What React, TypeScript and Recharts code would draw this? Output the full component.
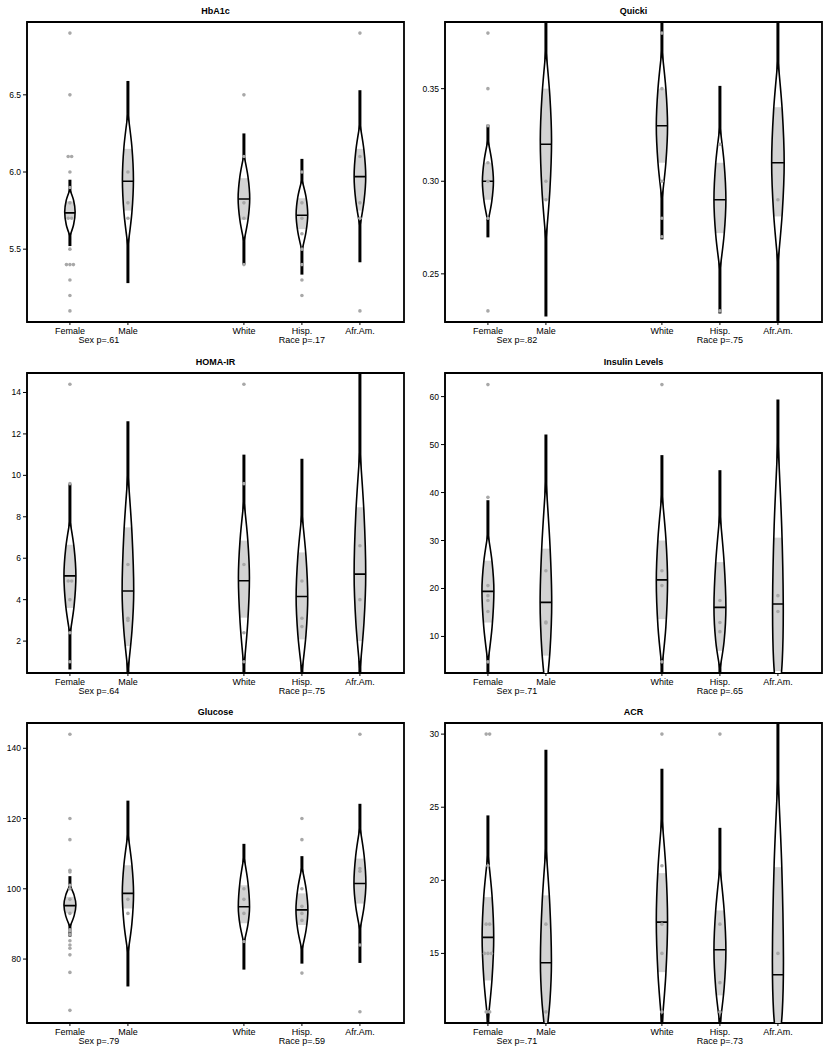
import React from 'react'
import { ComposedChart, Scatter, XAxis, YAxis, ReferenceArea } from 'recharts'

const FONT = '"Liberation Sans", Arial, Helvetica, sans-serif'

const CATEGORIES = ['Female', 'Male', 'White', 'Hisp.', 'Afr.Am.']
const CAT_X = [1, 2, 4, 5, 6]
const X_TICKS = [1, 1.5, 2, 4, 5, 6]
const X_DOMAIN = [0.26, 6.76]

// violin outlines: [y, half width] from bottom tip to top tip

// HbA1c
const hba1cTicks = [5.5, 6.0, 6.5]
const hba1cMedian = [5.735, 5.94, 5.825, 5.72, 5.97]
const hba1cBox = [[5.7, 5.81], [5.75, 6.15], [5.69, 5.96], [5.63, 5.83], [5.75, 6.15]]
const hba1cRange = [[5.52, 5.95], [5.28, 6.59], [5.4, 6.25], [5.335, 6.085], [5.415, 6.53]]
const hba1cViolin = [
  [[5.585, 0], [5.66, 0.064], [5.74, 0.09], [5.815, 0.064], [5.885, 0]],
  [[5.52, 0], [5.735, 0.068], [5.95, 0.095], [6.165, 0.068], [6.38, 0]],
  [[5.55, 0], [5.69, 0.07], [5.83, 0.1], [5.97, 0.07], [6.11, 0]],
  [[5.49, 0], [5.61, 0.07], [5.725, 0.1], [5.84, 0.07], [5.95, 0]],
  [[5.65, 0], [5.81, 0.07], [5.97, 0.1], [6.14, 0.07], [6.31, 0]],
]
const hba1cDots = [
  [6.9, 6.5, 6.1, 6.1, 6.0, 5.9, 5.8, 5.7, 5.7, 5.5, 5.4, 5.4, 5.4, 5.3, 5.2, 5.1],
  [6.0, 5.8, 5.7],
  [6.5, 6.1, 5.8, 5.7, 5.4],
  [6.0, 5.8, 5.7, 5.6, 5.5, 5.4, 5.3, 5.2],
  [6.9, 6.1, 5.8, 5.7, 5.1],
]

// Quicki
const quickiTicks = [0.25, 0.3, 0.35]
const quickiMedian = [0.3, 0.32, 0.33, 0.29, 0.31]
const quickiBox = [[0.29, 0.31], [0.29, 0.35], [0.31, 0.35], [0.272, 0.31], [0.281, 0.34]]
const quickiRange = [[0.2697, 0.3305], [0.227, 0.4], [0.2686, 0.4], [0.2286, 0.3515], [0.22, 0.4]]
const quickiViolin = [
  [[0.278, 0], [0.289, 0.066], [0.3, 0.095], [0.311, 0.066], [0.3223, 0]],
  [[0.268, 0], [0.295, 0.068], [0.322, 0.097], [0.346, 0.068], [0.371, 0]],
  [[0.29, 0], [0.31, 0.068], [0.33, 0.097], [0.35, 0.068], [0.371, 0]],
  [[0.252, 0], [0.271, 0.072], [0.29, 0.103], [0.31, 0.072], [0.3296, 0]],
  [[0.2557, 0], [0.283, 0.075], [0.31, 0.108], [0.338, 0.075], [0.3656, 0]],
]
const quickiDots = [
  [0.38, 0.35, 0.33, 0.31, 0.3, 0.28, 0.23],
  [0.3, 0.29],
  [0.38, 0.35, 0.3, 0.28, 0.27],
  [0.32, 0.23],
  [0.29],
]

// HOMA-IR
const homaTicks = [2, 4, 6, 8, 10, 12, 14]
const homaMedian = [5.15, 4.42, 4.91, 4.15, 5.23]
const homaBox = [[3.6, 6.65], [1.76, 7.49], [3.13, 6.85], [2.08, 6.28], [2.0, 8.46]]
const homaRange = [[0.63, 9.59], [0.2, 12.61], [0.2, 11.0], [0.2, 10.8], [0.2, 15.5]]
const homaViolin = [
  [[2.32, 0], [3.7, 0.072], [5.15, 0.103], [6.5, 0.072], [7.81, 0]],
  [[0.55, 0], [2.5, 0.07], [4.42, 0.1], [7.2, 0.07], [10.07, 0]],
  [[0.71, 0], [2.9, 0.066], [5.07, 0.095], [6.9, 0.066], [8.78, 0]],
  [[0.5, 0], [2.3, 0.07], [4.1, 0.1], [6.1, 0.07], [8.14, 0]],
  [[0.6, 0], [2.9, 0.07], [5.23, 0.1], [8.2, 0.07], [11.2, 0]],
]
const homaDots = [
  [14.4, 9.6, 4.9, 4.9, 4.0, 2.4, 1.0],
  [5.7, 3.1, 3.0],
  [14.4, 9.6, 5.7, 2.4, 1.0],
  [4.9, 3.1, 2.7],
  [6.6, 4.0],
]

// Insulin Levels
const insulinTicks = [10, 20, 30, 40, 50, 60]
const insulinMedian = [19.4, 17.1, 21.8, 16.07, 16.76]
const insulinBox = [[12.9, 25.8], [6.0, 28.3], [13.6, 30.0], [7.0, 25.5], [2.8, 30.6]]
const insulinRange = [[0, 38.4], [0, 52.1], [0, 47.8], [0, 44.66], [0, 59.4]]
const insulinViolin = [
  [[4.5, 0], [12, 0.072], [19.55, 0.103], [25.5, 0.072], [31.4, 0]],
  [[-2, 0], [7, 0.07], [17.1, 0.1], [29, 0.07], [42.6, 0]],
  [[3.5, 0], [12, 0.068], [21.6, 0.097], [30.5, 0.068], [39.8, 0]],
  [[3.2, 0], [9, 0.072], [16.1, 0.103], [25.5, 0.072], [35.6, 0]],
  [[-6, 0], [5, 0.075], [16.8, 0.092], [33, 0.065], [50.9, 0]],
]
const insulinDots = [
  [62.5, 39, 20.6, 18.5, 17.5, 15.2, 4.7],
  [23.7, 13.0, 12.8],
  [62.5, 23.7, 20.6, 4.7],
  [17.5, 12.9, 11.0],
  [18.5, 15.2],
]

// Glucose
const glucoseTicks = [80, 100, 120, 140]
const glucoseMedian = [95.2, 98.7, 94.9, 94.0, 101.5]
const glucoseBox = [[93, 97.7], [94.4, 106.7], [90.2, 101.0], [89.7, 98.7], [95.8, 108.6]]
const glucoseRange = [[86.4, 103.6], [72.2, 125.1], [77.0, 112.8], [78.7, 109.3], [78.9, 124.2]]
const glucoseViolin = [
  [[89.2, 0], [92.3, 0.072], [95.4, 0.103], [98.2, 0.072], [101.0, 0]],
  [[81.7, 0], [90, 0.068], [98.7, 0.097], [107, 0.068], [115.7, 0]],
  [[84.5, 0], [89.7, 0.068], [94.9, 0.097], [102, 0.068], [109.1, 0]],
  [[82.6, 0], [88.3, 0.072], [94.0, 0.103], [100, 0.072], [106.2, 0]],
  [[88.3, 0], [95, 0.072], [101.5, 0.103], [109.5, 0.072], [117.5, 0]],
]
const glucoseDots = [
  [144, 120, 114, 105.3, 104.8, 101, 100, 97, 93, 88.3, 88, 87, 85.2, 84, 83.1, 81.2, 76.2, 65.4],
  [97, 93],
  [100, 97, 93, 85],
  [120, 114, 100, 95, 93, 91, 76],
  [144, 105.8, 105, 84, 65],
]

// ACR
const acrTicks = [15, 20, 25, 30]
const acrMedian = [16.1, 14.36, 17.14, 15.25, 13.54]
const acrBox = [[13.15, 18.85], [10.0, 18.97], [13.72, 20.49], [12.13, 17.94], [10.0, 20.9]]
const acrRange = [[9, 24.44], [9, 28.93], [9, 27.63], [9, 23.59], [9, 32]]
const acrViolin = [
  [[10.3, 0], [13.2, 0.07], [16.1, 0.1], [19, 0.07], [21.8, 0]],
  [[9.0, 0], [11.8, 0.07], [14.5, 0.095], [18.4, 0.066], [22.27, 0]],
  [[10.1, 0], [13.6, 0.068], [17.26, 0.097], [20.8, 0.068], [24.3, 0]],
  [[10.1, 0], [12.6, 0.072], [15.2, 0.103], [18, 0.072], [20.9, 0]],
  [[8.0, 0], [11.0, 0.075], [14.75, 0.095], [21, 0.066], [27.06, 0]],
]
const acrDots = [
  [30, 30, 21, 17, 17, 15, 15, 15, 11, 11],
  [17, 11],
  [30, 21, 17, 15, 11],
  [30, 17, 13, 11],
  [15],
]

const PANELS = [
  { title: 'HbA1c', yDomain: [5.028, 6.972], ticks: hba1cTicks, digits: 1, median: hba1cMedian, box: hba1cBox, range: hba1cRange, violin: hba1cViolin, dots: hba1cDots, sexP: 'Sex p=.61', raceP: 'Race p=.17' },
  { title: 'Quicki', yDomain: [0.224, 0.386], ticks: quickiTicks, digits: 2, median: quickiMedian, box: quickiBox, range: quickiRange, violin: quickiViolin, dots: quickiDots, sexP: 'Sex p=.82', raceP: 'Race p=.75' },
  { title: 'HOMA-IR', yDomain: [0.46, 14.94], ticks: homaTicks, digits: 0, median: homaMedian, box: homaBox, range: homaRange, violin: homaViolin, dots: homaDots, sexP: 'Sex p=.64', raceP: 'Race p=.75' },
  { title: 'Insulin Levels', yDomain: [2.38, 64.92], ticks: insulinTicks, digits: 0, median: insulinMedian, box: insulinBox, range: insulinRange, violin: insulinViolin, dots: insulinDots, sexP: 'Sex p=.71', raceP: 'Race p=.65' },
  { title: 'Glucose', yDomain: [61.8, 147.2], ticks: glucoseTicks, digits: 0, median: glucoseMedian, box: glucoseBox, range: glucoseRange, violin: glucoseViolin, dots: glucoseDots, sexP: 'Sex p=.79', raceP: 'Race p=.59' },
  { title: 'ACR', yDomain: [10.24, 30.76], ticks: acrTicks, digits: 0, median: acrMedian, box: acrBox, range: acrRange, violin: acrViolin, dots: acrDots, sexP: 'Sex p=.71', raceP: 'Race p=.73' },
]

const PLOT_W = 377
const PLOT_H = 300
const CHART_H = 345
const LAYOUT = [
  { left: 0, top: 0, width: 413, yWidth: 27 },
  { left: 413, top: 0, width: 420, yWidth: 32 },
  { left: 0, top: 351, width: 413, yWidth: 27 },
  { left: 413, top: 351, width: 420, yWidth: 32 },
  { left: 0, top: 701, width: 413, yWidth: 27 },
  { left: 413, top: 701, width: 420, yWidth: 32 },
]

// Catmull-Rom through pixel points, as cubic segments
function smooth(pts: { x: number; y: number }[]) {
  let d = ''
  for (let i = 0; i < pts.length - 1; i++) {
    const p0 = pts[Math.max(i - 1, 0)]
    const p1 = pts[i]
    const p2 = pts[i + 1]
    const p3 = pts[Math.min(i + 2, pts.length - 1)]
    const c1x = p1.x + (p2.x - p0.x) / 6
    const c1y = p1.y + (p2.y - p0.y) / 6
    const c2x = p2.x - (p3.x - p1.x) / 6
    const c2y = p2.y - (p3.y - p1.y) / 6
    d += ` C${c1x},${c1y} ${c2x},${c2y} ${p2.x},${p2.y}`
  }
  return d
}

const violinLine = (id: string) => (props: any) => {
  const pts = props.points
  if (!pts || pts.length < 7) return <g />
  const [lo, hi, q1, q3, md] = pts
  const outline = pts.slice(5)
  const n = outline.length / 2
  const right = outline.slice(0, n)
  const left = outline.slice(n)
  const d = `M${right[0].x},${right[0].y}${smooth(right)} L${left[0].x},${left[0].y}${smooth(left)} Z`
  const xs = outline.map((p: any) => p.x)
  const xMin = Math.min(...xs)
  const xMax = Math.max(...xs)
  return (
    <g>
      <defs>
        <clipPath id={id}>
          <path d={d} />
        </clipPath>
      </defs>
      <line x1={lo.x} y1={lo.y} x2={hi.x} y2={hi.y} stroke="#000" strokeWidth={3} />
      <path d={d} fill="#fff" stroke="none" />
      <rect
        x={xMin}
        y={Math.min(q1.y, q3.y)}
        width={xMax - xMin}
        height={Math.abs(q1.y - q3.y)}
        fill="#d3d3d3"
        clipPath={`url(#${id})`}
      />
      <line x1={xMin} x2={xMax} y1={md.y} y2={md.y} stroke="#000" strokeWidth={1.6} clipPath={`url(#${id})`} />
      <path d={d} fill="none" stroke="#000" strokeWidth={1.6} />
    </g>
  )
}

const NoShape = () => <g />
const GrayDot = (props: any) => <circle cx={props.cx} cy={props.cy} r={1.8} fill="#a8a8a8" />

function Panel({ p, pos, idx }: { p: any; pos: any; idx: number }) {
  const violins = CAT_X.map((cx, i) => {
    const right = p.violin[i].map(([y, w]: number[]) => ({ x: cx + w, y }))
    const left = [...p.violin[i]].reverse().map(([y, w]: number[]) => ({ x: cx - w, y }))
    return [
      { x: cx, y: p.range[i][0] },
      { x: cx, y: p.range[i][1] },
      { x: cx, y: p.box[i][0] },
      { x: cx, y: p.box[i][1] },
      { x: cx, y: p.median[i] },
      ...right,
      ...left,
    ]
  })

  // small sideways spread for repeated values so they stay visible
  const dots: { x: number; y: number }[] = []
  p.dots.forEach((vals: number[], i: number) => {
    const total: Record<string, number> = {}
    vals.forEach((v) => (total[v] = (total[v] ?? 0) + 1))
    const seen: Record<string, number> = {}
    vals.forEach((v) => {
      const k = seen[v] ?? 0
      seen[v] = k + 1
      dots.push({ x: CAT_X[i] + (k - (total[v] - 1) / 2) * 0.06, y: v })
    })
  })

  const xTick = (props: any) => {
    const { x, y, payload } = props
    const v = payload.value
    const i = CAT_X.indexOf(v)
    const txt = { textAnchor: 'middle' as const, fontSize: 9, fontFamily: FONT, fill: '#000' }
    return (
      <g>
        {i >= 0 && <line x1={x} x2={x} y1={y} y2={y + 3} stroke="#000" />}
        {i >= 0 && (
          <text x={x} y={y + 11.5} {...txt}>
            {CATEGORIES[i]}
          </text>
        )}
        {v === 1.5 && (
          <text x={x} y={y + 20.5} {...txt}>
            {p.sexP}
          </text>
        )}
        {v === 5 && (
          <text x={x} y={y + 20.5} {...txt}>
            {p.raceP}
          </text>
        )}
      </g>
    )
  }

  return (
    <div style={{ position: 'absolute', left: pos.left, top: pos.top, width: pos.width, height: CHART_H }}>
      <ComposedChart
        width={pos.width}
        height={CHART_H}
        margin={{ top: 22, right: pos.width - pos.yWidth - PLOT_W, bottom: 0, left: 0 }}
      >
        <XAxis
          type="number"
          dataKey="x"
          domain={X_DOMAIN}
          allowDataOverflow
          ticks={X_TICKS}
          interval={0}
          tick={xTick}
          tickLine={false}
          axisLine={false}
          tickSize={0}
          tickMargin={0}
          height={CHART_H - 22 - PLOT_H}
        />
        <YAxis
          type="number"
          dataKey="y"
          domain={p.yDomain}
          allowDataOverflow
          ticks={p.ticks}
          interval={0}
          width={pos.yWidth}
          tickSize={4}
          tickMargin={2}
          axisLine={{ stroke: '#000' }}
          tickLine={{ stroke: '#000' }}
          tick={{ fontSize: 8.5, fill: '#000', fontFamily: FONT }}
          tickFormatter={(v: number) => v.toFixed(p.digits)}
        />
        {violins.map((data, i) => (
          <Scatter
            key={i}
            data={data}
            line={violinLine(`vio-${idx}-${i}`)}
            lineType="joint"
            shape={NoShape}
            isAnimationActive={false}
          />
        ))}
        <Scatter data={dots} shape={GrayDot} isAnimationActive={false} />
        <ReferenceArea
          x1={X_DOMAIN[0]}
          x2={X_DOMAIN[1]}
          y1={p.yDomain[0]}
          y2={p.yDomain[1]}
          fill="none"
          stroke="#000"
          strokeWidth={1.8}
        />
      </ComposedChart>
      <div
        style={{
          position: 'absolute',
          left: pos.yWidth,
          width: PLOT_W,
          top: 5,
          textAlign: 'center',
          fontWeight: 'bold',
          fontSize: 9,
          lineHeight: '12px',
          fontFamily: FONT,
          color: '#000',
        }}
      >
        {p.title}
      </div>
    </div>
  )
}

export default function App() {
  return (
    <div
      style={{
        position: 'absolute',
        left: 0,
        top: 0,
        width: 833,
        height: 1050,
        background: '#fff',
        overflow: 'hidden',
      }}
    >
      {PANELS.map((p, i) => (
        <Panel key={p.title} p={p} pos={LAYOUT[i]} idx={i} />
      ))}
    </div>
  )
}
